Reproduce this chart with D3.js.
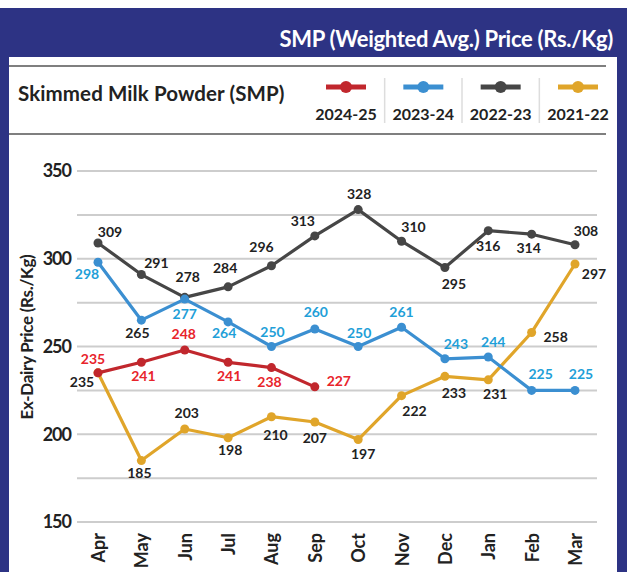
<!DOCTYPE html>
<html>
<head>
<meta charset="utf-8">
<script src="https://cdn.jsdelivr.net/npm/d3@7"></script>
<style>
  body { margin: 0; background: #fff; }
  text { font-family: Lato, "Open Sans", sans-serif; font-weight: 700; }
</style>
</head>
<body>
<svg width="629" height="572"></svg>
<script>
var width = 629;
var height = 572;

// months of the financial year
var months = ['Apr', 'May', 'Jun', 'Jul', 'Aug', 'Sep', 'Oct', 'Nov', 'Dec', 'Jan', 'Feb', 'Mar'];
var seriesNames = ['2024-25', '2023-24', '2022-23', '2021-22'];
var yTicks = [150, 200, 250, 300, 350];

// SMP prices, Rs./Kg
var fy2425 = [235, 241, 248, 241, 238, 227];
var fy2324 = [298, 265, 277, 264, 250, 260, 250, 261, 243, 244, 225, 225];
var fy2223 = [309, 291, 278, 284, 296, 313, 328, 310, 295, 316, 314, 308];
var fy2122 = [235, 185, 203, 198, 210, 207, 197, 222, 233, 231, 258, 297];

// label placement (dx, dy from the point)
var off2425 = [[-5, -14], [2, 14], [-1, -16], [1, 14], [-2, 14], [24, -6]];
var off2324 = [[-11, 12], [-4, 13], [0, 15], [-4, 11], [1, -15], [1, -17], [1, -14], [0, -15], [11, -15], [5, -15], [9, -16], [6, -16]];
var off2223 = [[12, -11], [15, -12], [3, -20], [-3, -19], [-10, -19], [-12, -15], [1, -16], [12, -14], [9, 16], [0, 15], [-3, 14], [11, -14]];
var off2122 = [[-16, 9], [-2, 12], [2, -16], [2, 12], [4, 18], [0, 16], [5, 14], [13, 15], [9, 17], [7, 14], [24, 4], [19, 10]];

var navy = '#2d3384';

var series = [
  { name: '2021-22', values: fy2122, offs: off2122, line: '#e0a52a', label: '#222' },
  { name: '2022-23', values: fy2223, offs: off2223, line: '#464646', label: '#222' },
  { name: '2023-24', values: fy2324, offs: off2324, line: '#3b8fd1', label: '#1fa0d8' },
  { name: '2024-25', values: fy2425, offs: off2425, line: '#c1272d', label: '#e8242b' }
];

var svg = d3.select('svg');

// frame ----------------------------------------------------------------
svg.append('rect').attr('x', 0).attr('y', 8).attr('width', 627).attr('height', height - 8).attr('fill', navy);
svg.append('rect').attr('x', 9).attr('y', 57).attr('width', 608).attr('height', height - 57).attr('fill', '#fff');

svg.append('text')
  .attr('x', 613).attr('y', 47)
  .attr('text-anchor', 'end')
  .attr('fill', '#fff')
  .style('font-size', '22px')
  .style('letter-spacing', '-0.3px')
  .text('SMP (Weighted Avg.) Price (Rs./Kg)');

// header row
svg.append('line').attr('x1', 9).attr('x2', 606).attr('y1', 66).attr('y2', 66).attr('stroke', '#555').attr('stroke-width', 1.5);
svg.append('line').attr('x1', 9).attr('x2', 606).attr('y1', 134).attr('y2', 134).attr('stroke', '#555').attr('stroke-width', 1.5);

svg.append('text')
  .attr('x', 18).attr('y', 101)
  .attr('fill', '#222')
  .style('font-size', '20.5px')
  .style('letter-spacing', '0.1px')
  .text('Skimmed Milk Powder (SMP)');

// legend
var legendX = d3.scalePoint().domain(seriesNames).range([346, 578]);
var colorOf = {};
series.forEach(s => { colorOf[s.name] = s.line; });

var leg = svg.append('g');
leg.selectAll('line.sep').data(seriesNames.slice(1)).enter().append('line')
  .attr('class', 'sep')
  .attr('x1', d => legendX(d) - legendX.step() / 2)
  .attr('x2', d => legendX(d) - legendX.step() / 2)
  .attr('y1', 78).attr('y2', 123)
  .attr('stroke', '#ddd').attr('stroke-width', 1.5);
leg.selectAll('line.key').data(seriesNames).enter().append('line')
  .attr('class', 'key')
  .attr('x1', d => legendX(d) - 20).attr('x2', d => legendX(d) + 20)
  .attr('y1', 87).attr('y2', 87)
  .attr('stroke', d => colorOf[d]).attr('stroke-width', 5);
leg.selectAll('circle').data(seriesNames).enter().append('circle')
  .attr('cx', d => legendX(d)).attr('cy', 87).attr('r', 6)
  .attr('fill', d => colorOf[d]);
leg.selectAll('text').data(seriesNames).enter().append('text')
  .attr('x', d => legendX(d)).attr('y', 120)
  .attr('text-anchor', 'middle')
  .attr('fill', '#222')
  .style('font-size', '16px')
  .text(d => d);

// scales ---------------------------------------------------------------
var xScale = d3.scalePoint().domain(months).range([98, 575]);
var yScale = d3.scaleLinear().domain([150, 350]).range([522, 171]);

// gridlines every 25
var grid = d3.range(150, 351, 25);
svg.append('g').selectAll('line').data(grid).enter().append('line')
  .attr('x1', 77).attr('x2', 597)
  .attr('y1', d => yScale(d)).attr('y2', d => yScale(d))
  .attr('stroke', '#cdcdcd').attr('stroke-width', 2);

// y axis labels
var yAxis = d3.axisLeft(yScale).tickValues(yTicks).tickSize(0).tickPadding(0);
var gy = svg.append('g').attr('transform', 'translate(71,0)').call(yAxis);
gy.select('.domain').remove();
gy.selectAll('text')
  .attr('fill', '#222')
  .style('font-family', 'Lato, sans-serif')
  .style('font-weight', 700)
  .style('font-size', '18px')
  .style('letter-spacing', '-1px');

svg.append('text')
  .attr('transform', 'translate(33,337) rotate(-90)')
  .attr('text-anchor', 'middle')
  .attr('fill', '#222')
  .style('font-size', '17px')
  .style('letter-spacing', '-0.3px')
  .text('Ex-Dairy Price (Rs./Kg)');

// x axis labels (rotated)
var xAxis = d3.axisBottom(xScale).tickSize(0).tickPadding(0);
var gx = svg.append('g').attr('transform', 'translate(0,533)').call(xAxis);
gx.select('.domain').remove();
gx.selectAll('text')
  .attr('transform', 'rotate(-90)')
  .attr('text-anchor', 'end')
  .attr('x', 0).attr('y', 0).attr('dy', '0.36em')
  .attr('fill', '#222')
  .style('font-family', 'Lato, sans-serif')
  .style('font-weight', 700)
  .style('font-size', '18px');

// lines ----------------------------------------------------------------
var line = d3.line().x((d, i) => xScale(months[i])).y(d => yScale(d));

series.forEach(s => {
  var g = svg.append('g');
  g.append('path').datum(s.values)
    .attr('d', line)
    .attr('fill', 'none')
    .attr('stroke', s.line)
    .attr('stroke-width', 3.2)
    .attr('stroke-linejoin', 'round');
  g.selectAll('circle').data(s.values).enter().append('circle')
    .attr('cx', (d, i) => xScale(months[i]))
    .attr('cy', d => yScale(d))
    .attr('r', 4.5)
    .attr('fill', s.line);
});

// value labels on top
series.forEach(s => {
  svg.append('g').selectAll('text').data(s.values).enter().append('text')
    .attr('x', (d, i) => xScale(months[i]) + s.offs[i][0])
    .attr('y', (d, i) => yScale(d) + s.offs[i][1])
    .attr('dy', '0.36em')
    .attr('text-anchor', 'middle')
    // the 265 label in May is printed in black in the source
    .attr('fill', (d, i) => (s.name === '2023-24' && i === 1) ? '#222' : s.label)
    .style('font-size', '14px')
    .text(d => d);
});
</script>
</body>
</html>
